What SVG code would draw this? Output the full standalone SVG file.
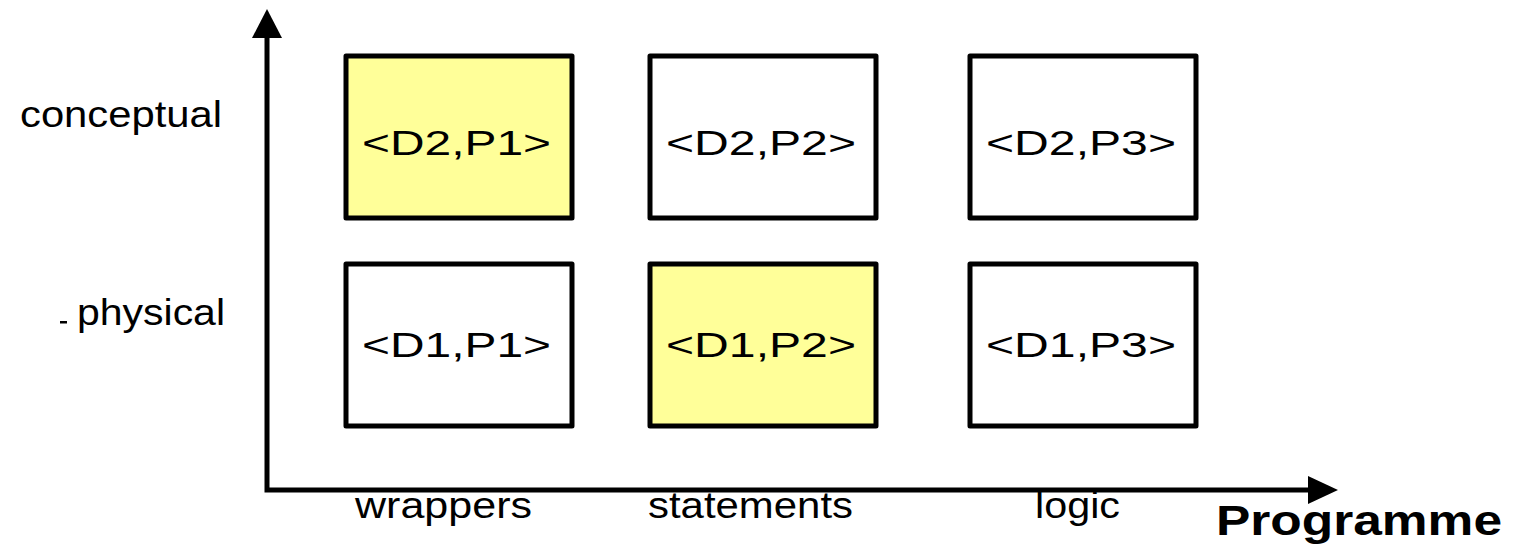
<svg xmlns="http://www.w3.org/2000/svg" width="1515" height="550" viewBox="0 0 1515 550">
<style>
.box{stroke:#000;stroke-width:5;stroke-linejoin:round}
.w{fill:#fff}
.y{fill:#ffff99}
.t{font-family:"Liberation Sans",Arial,sans-serif;font-size:35px;fill:#000}
.l{font-family:"Liberation Sans",Arial,sans-serif;font-size:36px;fill:#000}
.axis{stroke:#000;stroke-width:5;fill:none}
</style>
<rect width="1515" height="550" fill="#fff"/>
<g id="connectors">
<polyline class="axis" points="267,36 267,490 1310,490"/>
<polygon points="267,9 252,38 282,38" fill="#000"/>
<polygon points="1338,490 1308,476 1308,504" fill="#000"/>
</g>
<g id="n-d2p1"><rect class="box y" x="346" y="56" width="226" height="162"/><text class="t" x="362" y="155" textLength="189" lengthAdjust="spacingAndGlyphs">&lt;D2,P1&gt;</text></g>
<g id="n-d2p2"><rect class="box w" x="650" y="56" width="226" height="162"/><text class="t" x="666" y="155" textLength="190" lengthAdjust="spacingAndGlyphs">&lt;D2,P2&gt;</text></g>
<g id="n-d2p3"><rect class="box w" x="970" y="56" width="226" height="162"/><text class="t" x="986" y="155" textLength="190" lengthAdjust="spacingAndGlyphs">&lt;D2,P3&gt;</text></g>
<g id="n-d1p1"><rect class="box w" x="346" y="264" width="226" height="162"/><text class="t" x="362" y="357" textLength="189" lengthAdjust="spacingAndGlyphs">&lt;D1,P1&gt;</text></g>
<g id="n-d1p2"><rect class="box y" x="650" y="264" width="226" height="162"/><text class="t" x="666" y="357" textLength="190" lengthAdjust="spacingAndGlyphs">&lt;D1,P2&gt;</text></g>
<g id="n-d1p3"><rect class="box w" x="970" y="264" width="226" height="162"/><text class="t" x="986" y="357" textLength="190" lengthAdjust="spacingAndGlyphs">&lt;D1,P3&gt;</text></g>
<g id="labels">
<text class="l" x="20" y="127" textLength="202" lengthAdjust="spacingAndGlyphs">conceptual</text>
<rect x="60" y="321" width="7" height="2.5" fill="#000"/>
<text class="l" x="77" y="325" textLength="148" lengthAdjust="spacingAndGlyphs">physical</text>
<text class="l" x="355" y="518" textLength="177" lengthAdjust="spacingAndGlyphs">wrappers</text>
<text class="l" x="648" y="518" textLength="205" lengthAdjust="spacingAndGlyphs">statements</text>
<text class="l" x="1035" y="518" textLength="85" lengthAdjust="spacingAndGlyphs">logic</text>
<text x="1216" y="535" font-family="'Liberation Sans',Arial,sans-serif" font-size="42" font-weight="bold" fill="#000" textLength="286" lengthAdjust="spacingAndGlyphs">Programme</text>
</g>
</svg>
